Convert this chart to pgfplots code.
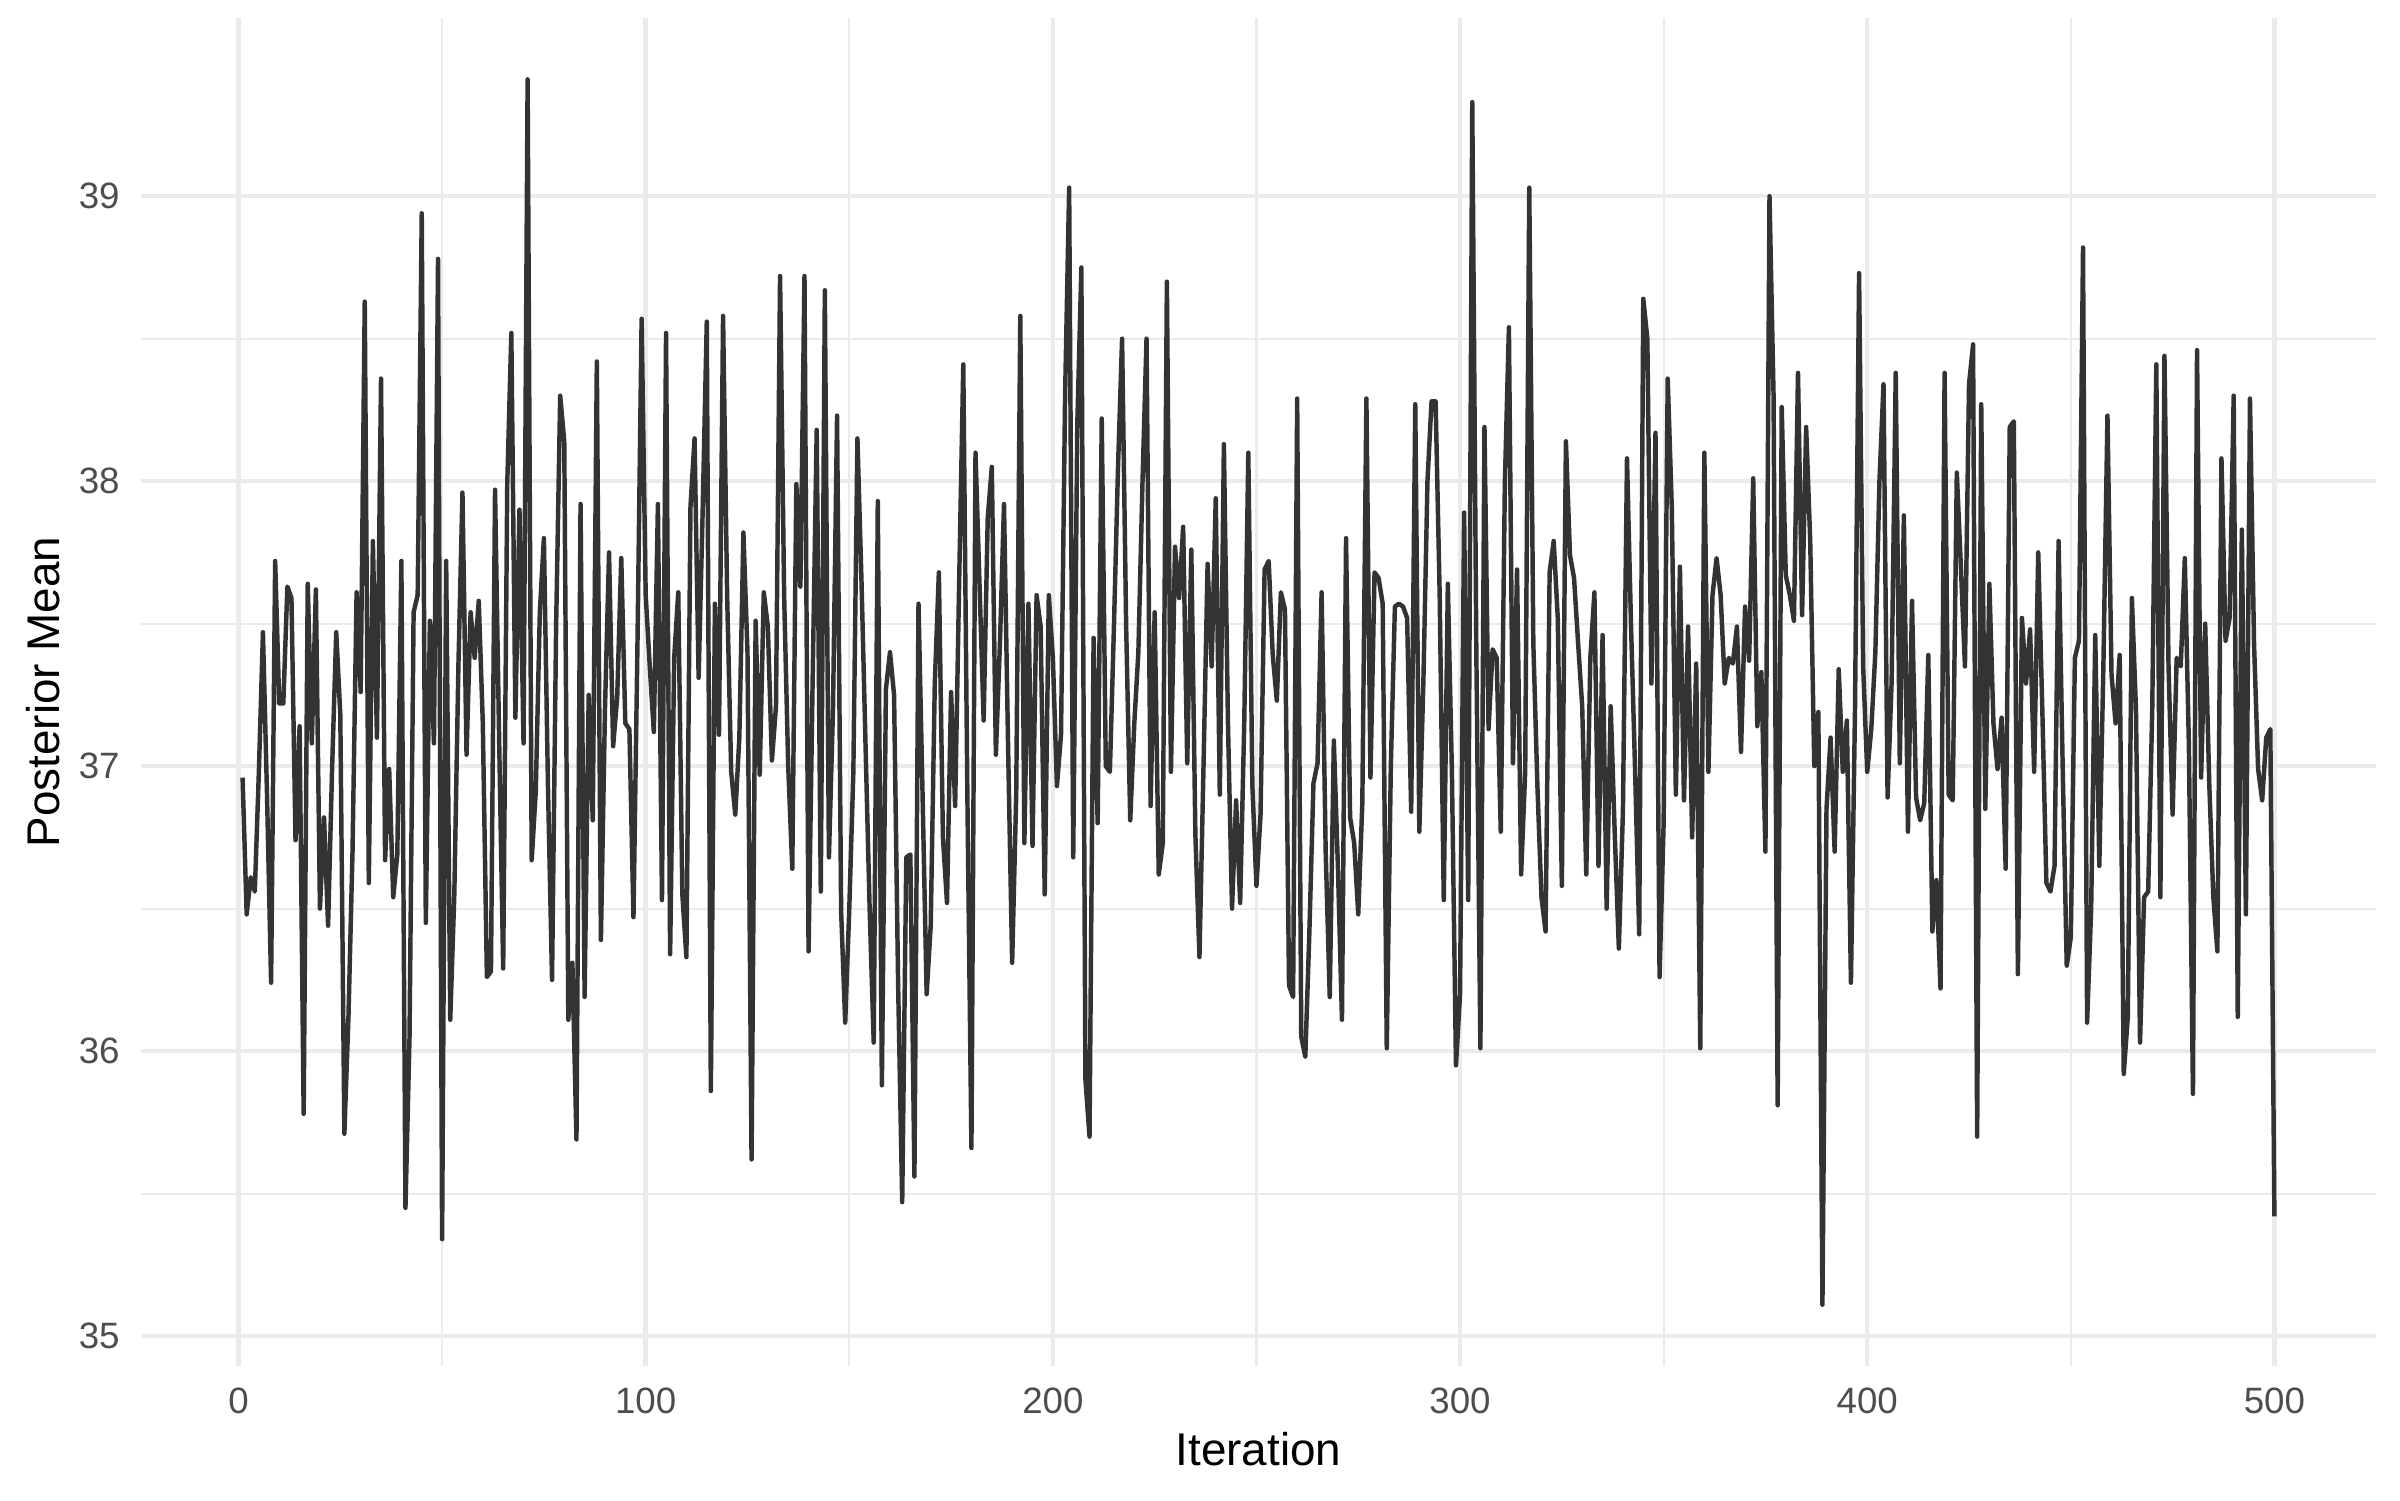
\documentclass[border=0pt]{standalone}
\usepackage{fontspec}
\setmainfont{Liberation Sans}
\usepackage{pgfplots}
\pgfplotsset{compat=1.18}
\definecolor{gridmaj}{HTML}{EBEBEB}
\definecolor{ticktxt}{HTML}{4D4D4D}
\definecolor{trace}{HTML}{333333}
\begin{document}
\begin{tikzpicture}
% page = 576pt x 360pt (8in x 5in); panel placed with fixed margins
\useasboundingbox (-33.84pt,-32.16pt) rectangle (542.16pt,327.84pt);
\begin{axis}[
  at={(0,0)}, anchor=south west,
  scale only axis, width=536.4pt, height=323.5pt,
  xmin=-23.95, xmax=524.95, ymin=34.895, ymax=39.625,
  axis line style={draw=none},
  major tick length=0pt, minor tick length=0pt,
  xtick={0,100,200,300,400,500}, minor xtick={50,150,250,350,450},
  ytick={35,36,37,38,39}, minor ytick={35.5,36.5,37.5,38.5},
  grid=both,
  major grid style={gridmaj, line width=1.07pt},
  minor grid style={gridmaj, line width=0.53pt},
  /pgf/number format/assume math mode=true,
  ticklabel style={font=\fontsize{8.8}{10}\selectfont, text=ticktxt, inner sep=0pt},
  xticklabel style={anchor=north, yshift=-4.95pt},
  yticklabel style={anchor=east, xshift=-4.95pt},
  xlabel={Iteration}, ylabel={Posterior Mean},
  label style={font=\fontsize{11}{13}\selectfont, inner sep=0pt},
  xlabel style={at={([yshift=-20pt]axis description cs:0.5,0)}, anchor=center},
  ylabel style={at={([xshift=-23.5pt]axis description cs:0,0.5)}, anchor=center},
]
\addplot[trace, line width=1.07pt, line join=round, mark=none] coordinates {
(1,36.96)(2,36.48)(3,36.61)(4,36.56)(5,36.98)(6,37.47)(7,36.9)(8,36.24)(9,37.72)(10,37.22)
(11,37.22)(12,37.63)(13,37.59)(14,36.74)(15,37.14)(16,35.78)(17,37.64)(18,37.08)(19,37.62)(20,36.50)
(21,36.82)(22,36.44)(23,37.0)(24,37.47)(25,37.18)(26,35.71)(27,36.12)(28,36.7)(29,37.61)(30,37.26)
(31,38.63)(32,36.59)(33,37.79)(34,37.10)(35,38.36)(36,36.67)(37,36.99)(38,36.54)(39,36.69)(40,37.72)
(41,35.45)(42,36.05)(43,37.54)(44,37.60)(45,38.94)(46,36.45)(47,37.51)(48,37.08)(49,38.78)(50,35.34)
(51,37.72)(52,36.11)(53,36.55)(54,37.35)(55,37.96)(56,37.04)(57,37.54)(58,37.38)(59,37.58)(60,37.15)
(61,36.26)(62,36.28)(63,37.97)(64,37.1)(65,36.29)(66,37.99)(67,38.52)(68,37.17)(69,37.90)(70,37.08)
(71,39.41)(72,36.67)(73,36.91)(74,37.54)(75,37.80)(76,36.93)(77,36.25)(78,37.49)(79,38.30)(80,38.14)
(81,36.11)(82,36.31)(83,35.69)(84,37.92)(85,36.19)(86,37.25)(87,36.81)(88,38.42)(89,36.39)(90,37.2)
(91,37.75)(92,37.07)(93,37.24)(94,37.73)(95,37.15)(96,37.13)(97,36.47)(98,37.45)(99,38.57)(100,37.6)
(101,37.35)(102,37.12)(103,37.92)(104,36.53)(105,38.52)(106,36.34)(107,37.38)(108,37.61)(109,36.55)(110,36.33)
(111,37.91)(112,38.15)(113,37.31)(114,37.9)(115,38.56)(116,35.86)(117,37.57)(118,37.11)(119,38.58)(120,37.6)
(121,36.98)(122,36.83)(123,37.1)(124,37.82)(125,37.40)(126,35.62)(127,37.51)(128,36.97)(129,37.61)(130,37.49)
(131,37.02)(132,37.21)(133,38.72)(134,37.6)(135,37.0)(136,36.64)(137,37.99)(138,37.63)(139,38.72)(140,36.35)
(141,37.3)(142,38.18)(143,36.56)(144,38.67)(145,36.68)(146,37.2)(147,38.23)(148,36.49)(149,36.10)(150,36.5)
(151,36.98)(152,38.15)(153,37.65)(154,37.07)(155,36.5)(156,36.03)(157,37.93)(158,35.88)(159,37.27)(160,37.40)
(161,37.25)(162,36.23)(163,35.47)(164,36.68)(165,36.69)(166,35.56)(167,37.57)(168,36.9)(169,36.20)(170,36.44)
(171,37.29)(172,37.68)(173,36.75)(174,36.52)(175,37.26)(176,36.86)(177,37.66)(178,38.41)(179,36.9)(180,35.66)
(181,38.10)(182,37.63)(183,37.16)(184,37.87)(185,38.05)(186,37.04)(187,37.43)(188,37.92)(189,37.07)(190,36.31)
(191,36.9)(192,38.58)(193,36.73)(194,37.57)(195,36.72)(196,37.60)(197,37.49)(198,36.55)(199,37.60)(200,37.38)
(201,36.93)(202,37.11)(203,38.3)(204,39.03)(205,36.68)(206,38.2)(207,38.75)(208,35.9)(209,35.70)(210,37.45)
(211,36.80)(212,38.22)(213,37.0)(214,36.98)(215,37.49)(216,38.05)(217,38.50)(218,37.49)(219,36.81)(220,37.15)
(221,37.4)(222,37.99)(223,38.50)(224,36.86)(225,37.54)(226,36.62)(227,36.73)(228,38.70)(229,36.98)(230,37.77)
(231,37.59)(232,37.84)(233,37.01)(234,37.76)(235,36.76)(236,36.33)(237,37.0)(238,37.71)(239,37.35)(240,37.94)
(241,36.90)(242,38.13)(243,37.15)(244,36.50)(245,36.88)(246,36.52)(247,37.15)(248,38.10)(249,36.93)(250,36.58)
(251,36.83)(252,37.69)(253,37.72)(254,37.39)(255,37.23)(256,37.61)(257,37.55)(258,36.23)(259,36.19)(260,38.29)
(261,36.05)(262,35.98)(263,36.42)(264,36.94)(265,37.01)(266,37.61)(267,36.70)(268,36.19)(269,37.09)(270,36.65)
(271,36.11)(272,37.80)(273,36.82)(274,36.73)(275,36.48)(276,36.87)(277,38.29)(278,36.96)(279,37.68)(280,37.66)
(281,37.57)(282,36.01)(283,37.0)(284,37.56)(285,37.57)(286,37.56)(287,37.52)(288,36.84)(289,38.27)(290,36.77)
(291,37.3)(292,38.0)(293,38.28)(294,38.28)(295,37.6)(296,36.53)(297,37.64)(298,36.98)(299,35.95)(300,36.20)
(301,37.89)(302,36.53)(303,39.33)(304,37.4)(305,36.01)(306,38.19)(307,37.13)(308,37.41)(309,37.38)(310,36.77)
(311,37.99)(312,38.54)(313,37.01)(314,37.69)(315,36.62)(316,36.98)(317,39.03)(318,37.43)(319,36.93)(320,36.54)
(321,36.42)(322,37.68)(323,37.79)(324,37.52)(325,36.58)(326,38.14)(327,37.74)(328,37.66)(329,37.43)(330,37.21)
(331,36.62)(332,37.38)(333,37.61)(334,36.65)(335,37.46)(336,36.50)(337,37.21)(338,36.76)(339,36.36)(340,36.84)
(341,38.08)(342,37.49)(343,36.98)(344,36.41)(345,38.64)(346,38.50)(347,37.29)(348,38.17)(349,36.26)(350,36.80)
(351,38.36)(352,37.91)(353,36.90)(354,37.70)(355,36.88)(356,37.49)(357,36.75)(358,37.36)(359,36.01)(360,38.10)
(361,36.98)(362,37.60)(363,37.73)(364,37.60)(365,37.29)(366,37.38)(367,37.36)(368,37.49)(369,37.05)(370,37.56)
(371,37.37)(372,38.01)(373,37.14)(374,37.33)(375,36.70)(376,39.00)(377,38.3)(378,35.81)(379,38.26)(380,37.67)
(381,37.60)(382,37.51)(383,38.38)(384,37.53)(385,38.19)(386,37.79)(387,37.00)(388,37.19)(389,35.11)(390,36.85)
(391,37.10)(392,36.70)(393,37.34)(394,36.98)(395,37.16)(396,36.24)(397,37.2)(398,38.73)(399,37.35)(400,36.98)
(401,37.13)(402,37.4)(403,38.0)(404,38.34)(405,36.89)(406,37.3)(407,38.38)(408,37.01)(409,37.88)(410,36.77)
(411,37.58)(412,36.89)(413,36.81)(414,36.87)(415,37.39)(416,36.42)(417,36.60)(418,36.22)(419,38.38)(420,36.90)
(421,36.88)(422,38.03)(423,37.7)(424,37.35)(425,38.34)(426,38.48)(427,35.70)(428,38.27)(429,36.85)(430,37.64)
(431,37.15)(432,36.99)(433,37.17)(434,36.64)(435,38.19)(436,38.21)(437,36.27)(438,37.52)(439,37.29)(440,37.48)
(441,36.98)(442,37.75)(443,37.2)(444,36.59)(445,36.56)(446,36.65)(447,37.79)(448,37.0)(449,36.30)(450,36.40)
(451,37.38)(452,37.44)(453,38.82)(454,36.10)(455,36.5)(456,37.46)(457,36.65)(458,37.35)(459,38.23)(460,37.32)
(461,37.15)(462,37.39)(463,35.92)(464,36.12)(465,37.59)(466,37.2)(467,36.03)(468,36.54)(469,36.56)(470,37.2)
(471,38.41)(472,36.54)(473,38.44)(474,37.35)(475,36.83)(476,37.38)(477,37.35)(478,37.73)(479,37.07)(480,35.85)
(481,38.46)(482,36.96)(483,37.50)(484,36.94)(485,36.54)(486,36.35)(487,38.08)(488,37.44)(489,37.52)(490,38.30)
(491,36.12)(492,37.83)(493,36.48)(494,38.29)(495,37.43)(496,36.99)(497,36.88)(498,37.10)(499,37.13)(500,35.42)
};
\end{axis}
\end{tikzpicture}
\end{document}
